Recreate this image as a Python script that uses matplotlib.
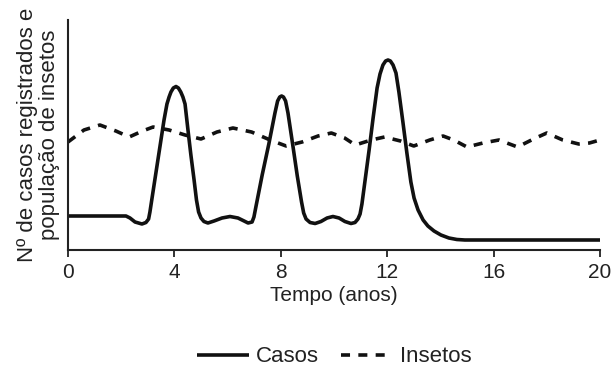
import matplotlib
matplotlib.use('Agg')
import matplotlib.pyplot as plt

plt.rcParams['font.family'] = ['Liberation Sans', 'DejaVu Sans']

# Casos registrados (tempo em anos, valor relativo)
casos_t = [0, 2.18, 2.33, 2.52, 2.78, 2.93, 3.03, 3.08, 3.16, 3.31, 3.46, 3.61, 3.72, 3.8,
           3.87, 3.96, 4.06, 4.15, 4.24, 4.32, 4.4, 4.51, 4.62, 4.74, 4.83, 4.91, 5.0,
           5.11, 5.26, 5.49, 5.79, 6.09, 6.39, 6.62, 6.77,
           6.92, 6.99, 7.07, 7.3, 7.55, 7.78, 7.88, 7.96, 8.03, 8.1, 8.18, 8.27,
           8.45, 8.62, 8.78, 8.86, 8.95, 9.1, 9.29, 9.51, 9.74, 9.96, 10.19, 10.41,
           10.64, 10.79, 10.9, 10.98, 11.05, 11.17, 11.32, 11.47, 11.62, 11.73, 11.84,
           11.94, 12.03, 12.12, 12.22, 12.33, 12.44, 12.59, 12.74, 12.89, 13.01, 13.16,
           13.35, 13.53, 13.76, 14.02, 14.32, 14.62, 14.92, 20]
casos_v = [34, 34, 32, 28, 26, 27.5, 31, 38, 52, 78, 104, 130, 146, 153,
           158, 162, 163.5, 162, 158, 153, 146, 120, 95, 70, 50, 38, 32,
           28.5, 27, 29, 32, 33.5, 32, 29, 27,
           28, 33, 44, 75, 106, 137, 149, 153, 154, 153, 149, 137,
           105, 74, 48, 37, 31, 27.5, 26.5, 28.5, 32, 33.5, 32, 28.5,
           26.5, 27.5, 31, 36, 46, 70, 100, 132, 162, 176, 185,
           189, 190, 189, 185, 177, 158, 128, 97, 68, 52, 40,
           30, 24, 19, 15, 12, 10.5, 10, 10]

# Populacao de insetos
insetos_t = [0, 0.6, 1.2, 1.8, 2.3, 2.8, 3.2, 3.8, 4.4, 5.0, 5.6, 6.2, 6.9, 7.6, 8.2, 8.8,
             9.4, 9.9, 10.4, 10.8, 11.4, 11.9, 12.5, 13.0, 13.6, 14.1, 14.5, 15.0, 15.6,
             16.2, 16.6, 16.9, 17.5, 18.0, 18.6, 19.2, 19.6, 20]
insetos_v = [108, 120, 125, 119, 113, 119, 123, 120, 115, 111, 118, 122, 118, 110, 104, 108,
             114, 117, 112, 105, 110, 113, 109, 104, 110, 114, 110, 103, 107,
             110, 106, 103, 111, 117, 110, 106, 107, 110]

xticks = [0, 4, 8, 12, 16, 20]

fig = plt.figure(figsize=(6.14, 3.68), dpi=100)
ax = fig.add_axes([68 / 614, 118 / 368, 532 / 614, 230 / 368])

ax.plot(casos_t, casos_v, color='#111111', lw=2.6, solid_joinstyle='round',
        solid_capstyle='butt', label='Casos')
ax.plot(insetos_t, insetos_v, color='#111111', lw=2.6, linestyle=(0, (2.5, 2.3)),
        label='Insetos')

ax.set_xlim(0, 20)
ax.set_ylim(0, 230)
ax.set_xticks(xticks)
ax.set_xticklabels([str(v) for v in xticks])
ax.set_yticks([])
ax.spines['top'].set_visible(False)
ax.spines['right'].set_visible(False)
for s in ['left', 'bottom']:
    ax.spines[s].set_linewidth(1.5)
    ax.spines[s].set_color('#222222')
ax.tick_params(axis='x', direction='out', length=5, width=1.3, color='#222222',
               labelsize=15, pad=4, labelcolor='#222222')

ax.set_xlabel('Tempo (anos)', fontsize=15, color='#222222', labelpad=3)
ax.set_ylabel('Nº de casos registrados e\npopulação de insetos', fontsize=16,
              color='#222222', labelpad=6, linespacing=1.05)

fig.legend(loc='center', bbox_to_anchor=(0.544, 0.03), ncol=2, frameon=False,
           fontsize=16, handlelength=2.35, columnspacing=1.0, handletextpad=0.3,
           labelcolor='#222222')

fig.savefig('out.png', dpi=100)
